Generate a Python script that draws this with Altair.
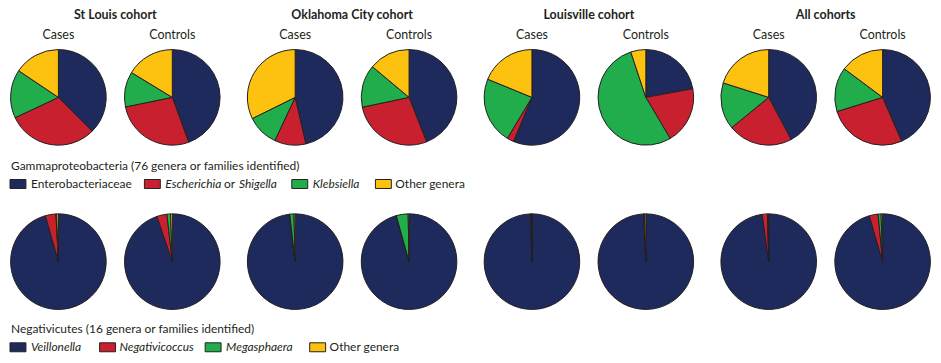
import math
import altair as alt
import pandas as pd

# ---------------- data ----------------
cohorts = ["St Louis cohort", "Oklahoma City cohort", "Louisville cohort", "All cohorts"]
groups = ["Cases", "Controls"]
panels = ["Gammaproteobacteria", "Negativicutes"]

gamma_genera = ["Enterobacteriaceae", "Escherichia or Shigella", "Klebsiella", "Other genera"]
neg_genera = ["Veillonella", "Negativicoccus", "Megasphaera", "Other genera"]

# pie order: StL Cases, StL Controls, OKC Cases, OKC Controls, Lou Cases, Lou Controls, All Cases, All Controls
gamma_entero = [37.5, 44.4, 46.4, 44.0, 56.3, 22.1, 42.2, 43.5]
gamma_esch = [30.5, 27.4, 10.6, 27.7, 2.3, 19.4, 21.9, 26.7]
gamma_kleb = [16.4, 11.9, 10.7, 14.4, 22.6, 53.4, 15.8, 15.0]
gamma_other = [15.6, 16.3, 32.3, 13.9, 18.8, 5.1, 20.1, 14.8]

neg_veil = [95.6, 94.8, 98.0, 95.5, 99.5, 99.3, 97.8, 95.5]
neg_negat = [3.6, 3.4, 0.2, 0.2, 0.3, 0.1, 1.8, 3.0]
neg_mega = [0.2, 1.2, 1.4, 4.0, 0.1, 0.1, 0.2, 1.0]
neg_other = [0.6, 0.6, 0.4, 0.3, 0.1, 0.5, 0.2, 0.5]

colors = ["#1f2a5c", "#c8202e", "#22ad4c", "#fdc20f"]
FONT = "Lato"
TXT = "#231f20"

pie_keys = [(c, g) for c in cohorts for g in groups]
rows = []
for panel, series in [
    ("Gammaproteobacteria", [gamma_entero, gamma_esch, gamma_kleb, gamma_other]),
    ("Negativicutes", [neg_veil, neg_negat, neg_mega, neg_other]),
]:
    for k, (c, g) in enumerate(pie_keys):
        for gi, vals in enumerate(series):
            rows.append(dict(panel=panel, cohort=c, group=g, genus=gi, value=vals[k]))
df = pd.DataFrame(rows)

x_scale = alt.Scale(domain=cohorts, paddingInner=0.11, paddingOuter=0)
xoff_scale = alt.Scale(type="point", domain=groups, padding=0.425)
y_scale = alt.Scale(type="point", domain=panels, range=[89, 254], padding=0)

pies = (
    alt.Chart(df)
    .transform_joinaggregate(total="sum(value)", groupby=["panel", "cohort", "group"])
    .transform_window(
        cum="sum(value)",
        sort=[alt.SortField("genus")],
        groupby=["panel", "cohort", "group"],
        frame=[None, 0],
    )
    .transform_calculate(t0="(datum.cum - datum.value) / datum.total", t1="datum.cum / datum.total")
    .mark_arc(outerRadius=48, stroke=TXT, strokeWidth=1)
    .encode(
        x=alt.X("cohort:N", scale=x_scale, axis=None),
        xOffset=alt.XOffset("group:N", scale=xoff_scale),
        y=alt.Y("panel:N", scale=y_scale, axis=None),
        theta=alt.Theta("t0:Q", scale=alt.Scale(domain=[0, 1], range=[0, 2 * math.pi]), stack=None),
        theta2="t1:Q",
        color=alt.Color("genus:O", scale=alt.Scale(domain=[0, 1, 2, 3], range=colors), legend=None),
    )
)

label_df = pd.DataFrame([{"cohort": c, "group": g} for c, g in pie_keys])
group_labels = (
    alt.Chart(label_df)
    .mark_text(font=FONT, fontSize=12.5, color=TXT, baseline="alphabetic")
    .encode(
        x=alt.X("cohort:N", scale=x_scale, axis=None),
        xOffset=alt.XOffset("group:N", scale=xoff_scale),
        y=alt.value(30),
        text="group:N",
    )
)

title_df = pd.DataFrame({"cohort": cohorts})
cohort_titles = (
    alt.Chart(title_df)
    .mark_text(font=FONT, fontSize=12.5, fontWeight="bold", color=TXT, baseline="alphabetic")
    .encode(x=alt.X("cohort:N", scale=x_scale, axis=None), y=alt.value(10), text="cohort:N")
)


def label(text, x, y, size=12, style="normal"):
    return (
        alt.Chart(alt.Data(values=[{}]))
        .mark_text(text=text, align="left", baseline="middle", font=FONT, fontSize=size,
                   fontStyle=style, color=TXT)
        .encode(x=alt.value(x), y=alt.value(y))
    )


def swatch(color, x, y):
    return (
        alt.Chart(alt.Data(values=[{}]))
        .mark_rect(fill=color, stroke=TXT, strokeWidth=1)
        .encode(x=alt.value(x), x2=alt.value(x + 16), y=alt.value(y - 4.5), y2=alt.value(y + 4.5))
    )


legend_layers = []
# legend 1
ly_t, ly_i = 158, 176
legend_layers.append(label("Gammaproteobacteria (76 genera or families identified)", 1, ly_t))
sw1 = [0, 135, 283, 367]
for i in range(4):
    legend_layers.append(swatch(colors[i], sw1[i], ly_i))
legend_layers.append(label(gamma_genera[0], 21, ly_i))
legend_layers.append(label("Escherichia", 156, ly_i, style="italic"))
legend_layers.append(label("or", 215, ly_i))
legend_layers.append(label("Shigella", 230, ly_i, style="italic"))
legend_layers.append(label(gamma_genera[2], 304, ly_i, style="italic"))
legend_layers.append(label(gamma_genera[3], 387, ly_i))

# legend 2
ly_t2, ly_i2 = 322, 340
legend_layers.append(label("Negativicutes (16 genera or families identified)", 1, ly_t2))
sw2 = [0, 90, 196, 301]
tx2 = [21, 110, 217, 321]
st2 = ["italic", "italic", "italic", "normal"]
for i in range(4):
    legend_layers.append(swatch(colors[i], sw2[i], ly_i2))
    legend_layers.append(label(neg_genera[i], tx2[i], ly_i2, style=st2[i]))

chart = (
    alt.layer(pies, group_labels, cohort_titles, *legend_layers)
    .properties(width=925, height=347, padding=0)
    .configure_view(stroke=None)
)

chart.save("out.html", embed_options={"renderer": "svg", "actions": False})
